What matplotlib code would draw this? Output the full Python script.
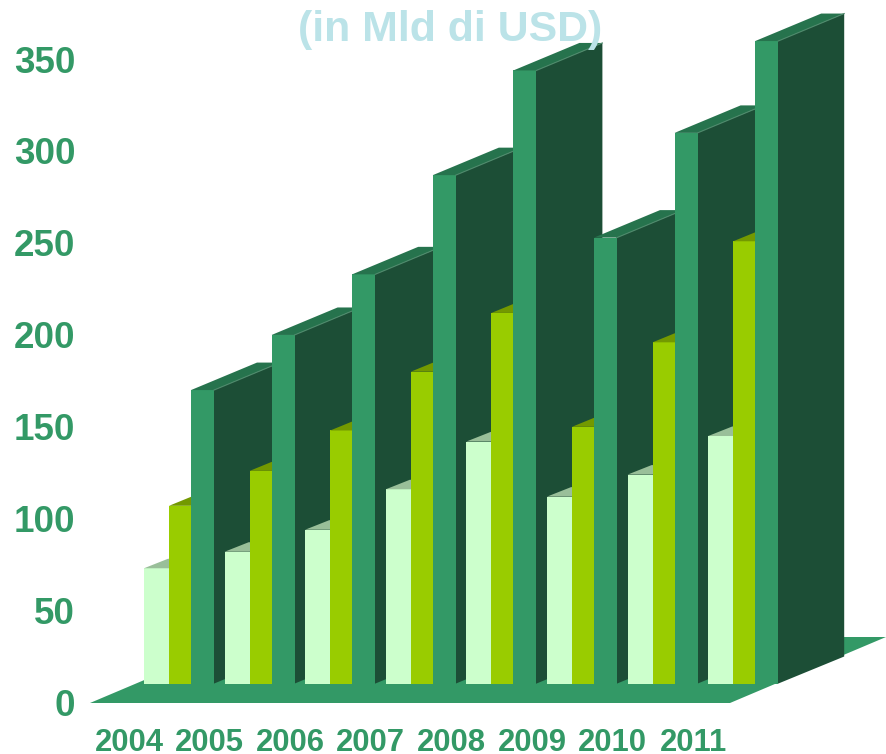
"""3D-look stacked row bars: in Mld di USD, 2004-2011."""
import matplotlib.pyplot as plt

plt.rcParams["font.family"] = ["Liberation Sans", "DejaVu Sans"]

YEARS = ["2004", "2005", "2006", "2007", "2008", "2009", "2010", "2011"]
LIGHT = [63, 72, 84, 106, 132, 102, 114, 135]
MEDIUM = [97, 116, 138, 170, 202, 140, 186, 241]
DARK = [160, 190, 223, 277, 334, 243, 300, 350]
Y_TICKS = [0, 50, 100, 150, 200, 250, 300, 350]

PX = 1.837  # pixels per unit on the y scale
X0 = 191
STEP = 80.6
TEXT = "#339966"


def box(ax, x, w, v, front, top, dx, dy, side=None):
    dy = dy / PX
    if side:
        # starts a bit under the front face so no seam shows
        ax.fill([x + w - 1, x + w + dx, x + w + dx, x + w - 1], [0, dy, v + dy, v],
                color=side, lw=0, zorder=3)
    ax.bar(x, v, w, align="edge", color=front, lw=0, zorder=3)
    ax.fill([x, x + w, x + w + dx, x + dx], [v, v, v + dy, v + dy], color=top, lw=0, zorder=3)
    if side:
        ax.plot([x + w, x + w + dx], [v, v + dy], color="#4f8a6c", lw=0.8, zorder=3)


def main():
    fig = plt.figure(figsize=(8.86, 7.54), dpi=100)
    ax = fig.add_axes([80 / 886, 34 / 754, 806 / 886, 720 / 754])
    for s in ax.spines.values():
        s.set_visible(False)

    # floor, hangs below the zero line
    floor_x = [90, 730, 886, 246]
    floor_y = [-19 / PX, -19 / PX, 47 / PX, 47 / PX]
    ax.fill(floor_x, floor_y, color="#339966", lw=0, zorder=1)

    for i in range(len(YEARS)):
        x = X0 + STEP * i
        box(ax, x - 47, 25, LIGHT[i], "#ccffcc", "#99bf99", 24, 9.5)
        box(ax, x - 22, 23, MEDIUM[i], "#99cc00", "#739900", 22, 9)
        box(ax, x, 23, DARK[i], "#339966", "#26734d", 66, 27.5, side="#1c4e36")

    # tick labels sit lower than the front plane
    ax.set_yticks([v - 18 / PX for v in Y_TICKS])
    ax.set_yticklabels([str(v) for v in Y_TICKS], fontsize=26.5, fontweight="bold", color=TEXT)
    ax.set_xticks([X0 - 62 + STEP * i for i in range(len(YEARS))])
    ax.set_xticklabels(YEARS, fontsize=22.3, fontweight="bold", color=TEXT)
    ax.tick_params(axis="y", length=0, pad=3.5)
    ax.tick_params(axis="x", length=0, pad=6)

    # set_yticks widens the view, so limits go last
    ax.set_xlim(80, 886)
    ax.set_ylim(-36 / PX, 684 / PX)

    ax.text(450, (684 - 30) / PX, "(in Mld di USD)", fontsize=30.9, fontweight="bold",
            color="#bbe3e8", ha="center", va="center", zorder=5)

    fig.savefig("out.png", dpi=100)
    plt.close(fig)


if __name__ == "__main__":
    main()
